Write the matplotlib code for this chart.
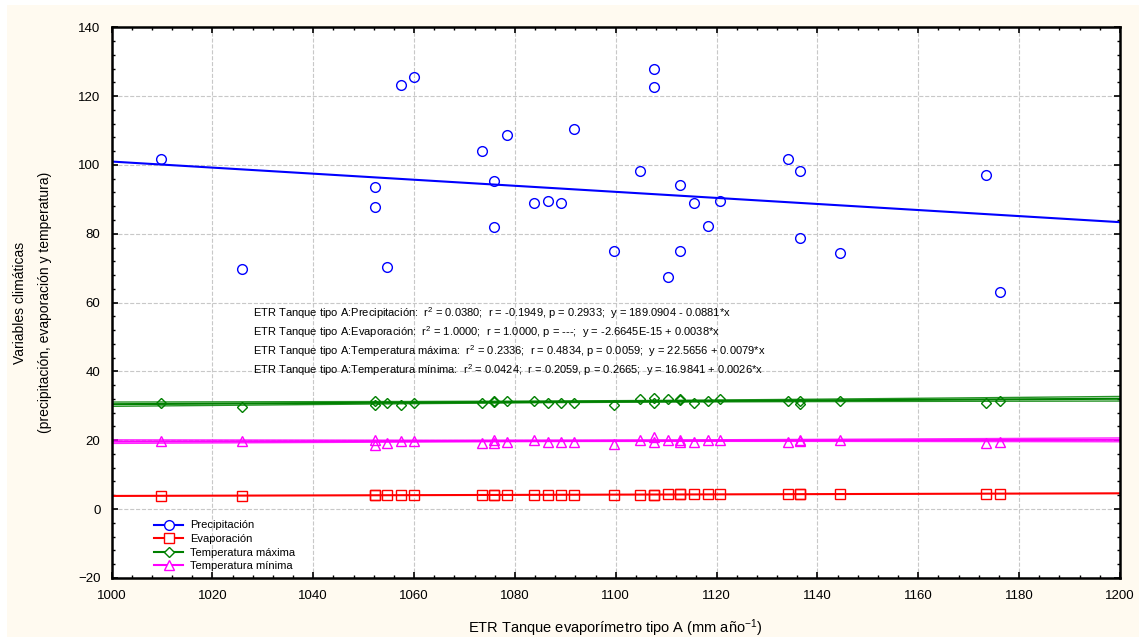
import numpy as np
import matplotlib.pyplot as plt
from matplotlib.patches import Rectangle
from matplotlib.ticker import MultipleLocator

plt.rcParams['font.family'] = ['Liberation Sans', 'DejaVu Sans']
plt.rcParams['mathtext.fontset'] = 'custom'
plt.rcParams['mathtext.rm'] = 'Liberation Sans'
plt.rcParams['mathtext.it'] = 'Liberation Sans:italic'

# ETR tanque evaporimetro tipo A (mm/anio)
etr = [1009.8, 1025.8, 1052.3, 1052.3, 1054.7, 1057.5, 1059.9, 1073.5, 1075.8, 1075.8,
       1078.5, 1083.8, 1086.5, 1089.2, 1091.7, 1099.7, 1104.9, 1107.6, 1107.6, 1110.4,
       1112.7, 1112.7, 1115.5, 1118.3, 1120.7, 1134.2, 1136.6, 1136.6, 1144.5, 1173.5,
       1176.3]
precip = [101.6, 69.7, 93.5, 87.7, 70.3, 123.2, 125.5, 104.1, 95.2, 81.9,
          108.6, 88.9, 89.4, 88.9, 110.4, 74.9, 98.1, 127.8, 122.6, 67.3,
          94.1, 74.9, 88.9, 82.4, 89.4, 101.6, 98.1, 78.9, 74.3, 97.0,
          63.2]
evap = [3.84, 3.90, 4.00, 4.00, 4.01, 4.02, 4.03, 4.08, 4.09, 4.09,
        4.10, 4.12, 4.13, 4.14, 4.15, 4.18, 4.20, 4.21, 4.21, 4.22,
        4.23, 4.23, 4.24, 4.25, 4.26, 4.31, 4.32, 4.32, 4.35, 4.46,
        4.47]
tmax = [30.9, 29.6, 31.3, 30.1, 30.8, 30.2, 30.9, 30.9, 31.3, 31.0,
        31.4, 31.4, 30.8, 30.8, 30.8, 30.2, 32.1, 32.3, 30.7, 32.1,
        32.1, 31.7, 30.7, 31.4, 32.1, 31.4, 31.4, 30.5, 31.4, 30.7,
        31.3]
tmin = [19.8, 19.8, 20.2, 18.5, 19.1, 19.8, 19.8, 19.1, 20.2, 19.3,
        19.6, 20.2, 19.6, 19.6, 19.6, 18.9, 20.2, 21.0, 19.4, 20.2,
        20.2, 19.4, 19.6, 20.2, 20.2, 19.6, 20.2, 19.9, 20.2, 19.1,
        19.6]

# coeficientes de regresion (intercepto, pendiente)
fit_precip = (189.0904, -0.0881)
fit_evap = (-2.6645e-15, 0.0038)
fit_tmax = (22.5656, 0.0079)
fit_tmin = (16.9841, 0.0026)

stats_lines = [
    'ETR Tanque tipo A:Precipitación:  r$^2$ = 0.0380;  r = -0.1949, p = 0.2933;  y = 189.0904 - 0.0881*x',
    'ETR Tanque tipo A:Evaporación:  r$^2$ = 1.0000;  r = 1.0000, p = ---;  y = -2.6645E-15 + 0.0038*x',
    'ETR Tanque tipo A:Temperatura máxima:  r$^2$ = 0.2336;  r = 0.4834, p = 0.0059;  y = 22.5656 + 0.0079*x',
    'ETR Tanque tipo A:Temperatura mínima:  r$^2$ = 0.0424;  r = 0.2059, p = 0.2665;  y = 16.9841 + 0.0026*x',
]


def conf_band(x, y, b0, b1, xs, t=2.045):
    # banda de confianza 95% de la recta
    x = np.asarray(x)
    y = np.asarray(y)
    res = y - (b0 + b1 * x)
    s = np.sqrt(np.sum(res ** 2) / (len(x) - 2))
    sxx = np.sum((x - x.mean()) ** 2)
    se = s * np.sqrt(1.0 / len(x) + (xs - x.mean()) ** 2 / sxx)
    return t * se


fig = plt.figure(figsize=(11.39, 6.37), dpi=100, facecolor='white')
fig.patches.append(Rectangle((7 / 1139, 0), 1, 1 - 5 / 637, transform=fig.transFigure,
                             facecolor='#fffaf0', edgecolor='none', zorder=-10))
ax = fig.add_axes([0.0979, 0.0929, 0.8854, 0.8642])
ax.set_facecolor('white')

xs = np.linspace(1000, 1200, 200)

series = [
    (precip, fit_precip, 'blue', 'o', 7.0, 'Precipitación', False),
    (evap, fit_evap, 'red', 's', 7.0, 'Evaporación', False),
    (tmax, fit_tmax, 'green', 'D', 5.5, 'Temperatura máxima', True),
    (tmin, fit_tmin, 'magenta', '^', 7.0, 'Temperatura mínima', True),
]

for y, (b0, b1), col, mk, ms, lab, band in series:
    yl = b0 + b1 * xs
    ax.plot(xs, yl, color=col, lw=1.5, zorder=2)
    if band:
        ci = conf_band(etr, y, b0, b1, xs)
        ax.plot(xs, yl + ci, color=col, lw=1.0, alpha=0.85, zorder=2)
        ax.plot(xs, yl - ci, color=col, lw=1.0, alpha=0.85, zorder=2)
    ax.plot(etr, y, linestyle='none', marker=mk, ms=ms, mfc='none', mec=col,
            mew=1.0, zorder=3)
    # entrada de leyenda: linea con marcador
    ax.plot([], [], color=col, lw=1.5, marker=mk, ms=ms, mfc='white', mec=col,
            mew=1.0, label=lab)

ax.set_xlim(1000, 1200)
ax.set_ylim(-20, 140)
ax.xaxis.set_major_locator(MultipleLocator(20))
ax.xaxis.set_minor_locator(MultipleLocator(4))
ax.yaxis.set_major_locator(MultipleLocator(20))
ax.yaxis.set_minor_locator(MultipleLocator(4))
ax.tick_params(which='both', direction='in', top=True, right=True,
               labelsize=9.5, color='black')
ax.tick_params(which='major', length=4, width=1.2)
ax.tick_params(which='minor', length=2.5, width=1.0)
ax.tick_params(axis='x', pad=9)
ax.tick_params(axis='y', pad=8)
ax.grid(True, which='major', color='#c8c8c8', linestyle='--', linewidth=0.8)
ax.set_axisbelow(True)
for sp in ax.spines.values():
    sp.set_linewidth(1.8)

for i, line in enumerate(stats_lines):
    ax.text(0.140, 0.481 - i * 0.0345, line, transform=ax.transAxes,
            fontsize=8, va='center', ha='left')

ax.set_xlabel('ETR Tanque evaporímetro tipo A (mm año$^{-1}$)', fontsize=10.5, labelpad=11)
ax.set_ylabel('Variables climáticas\n(precipitación, evaporación y temperatura)',
              fontsize=10, labelpad=19, linespacing=2.0)

ax.legend(loc='lower left', bbox_to_anchor=(0.036, 0.0), frameon=False, fontsize=8,
          handlelength=2.6, labelspacing=0.32, borderaxespad=0.2, handletextpad=0.6)

fig.savefig('out.png', dpi=100, facecolor=fig.get_facecolor())
